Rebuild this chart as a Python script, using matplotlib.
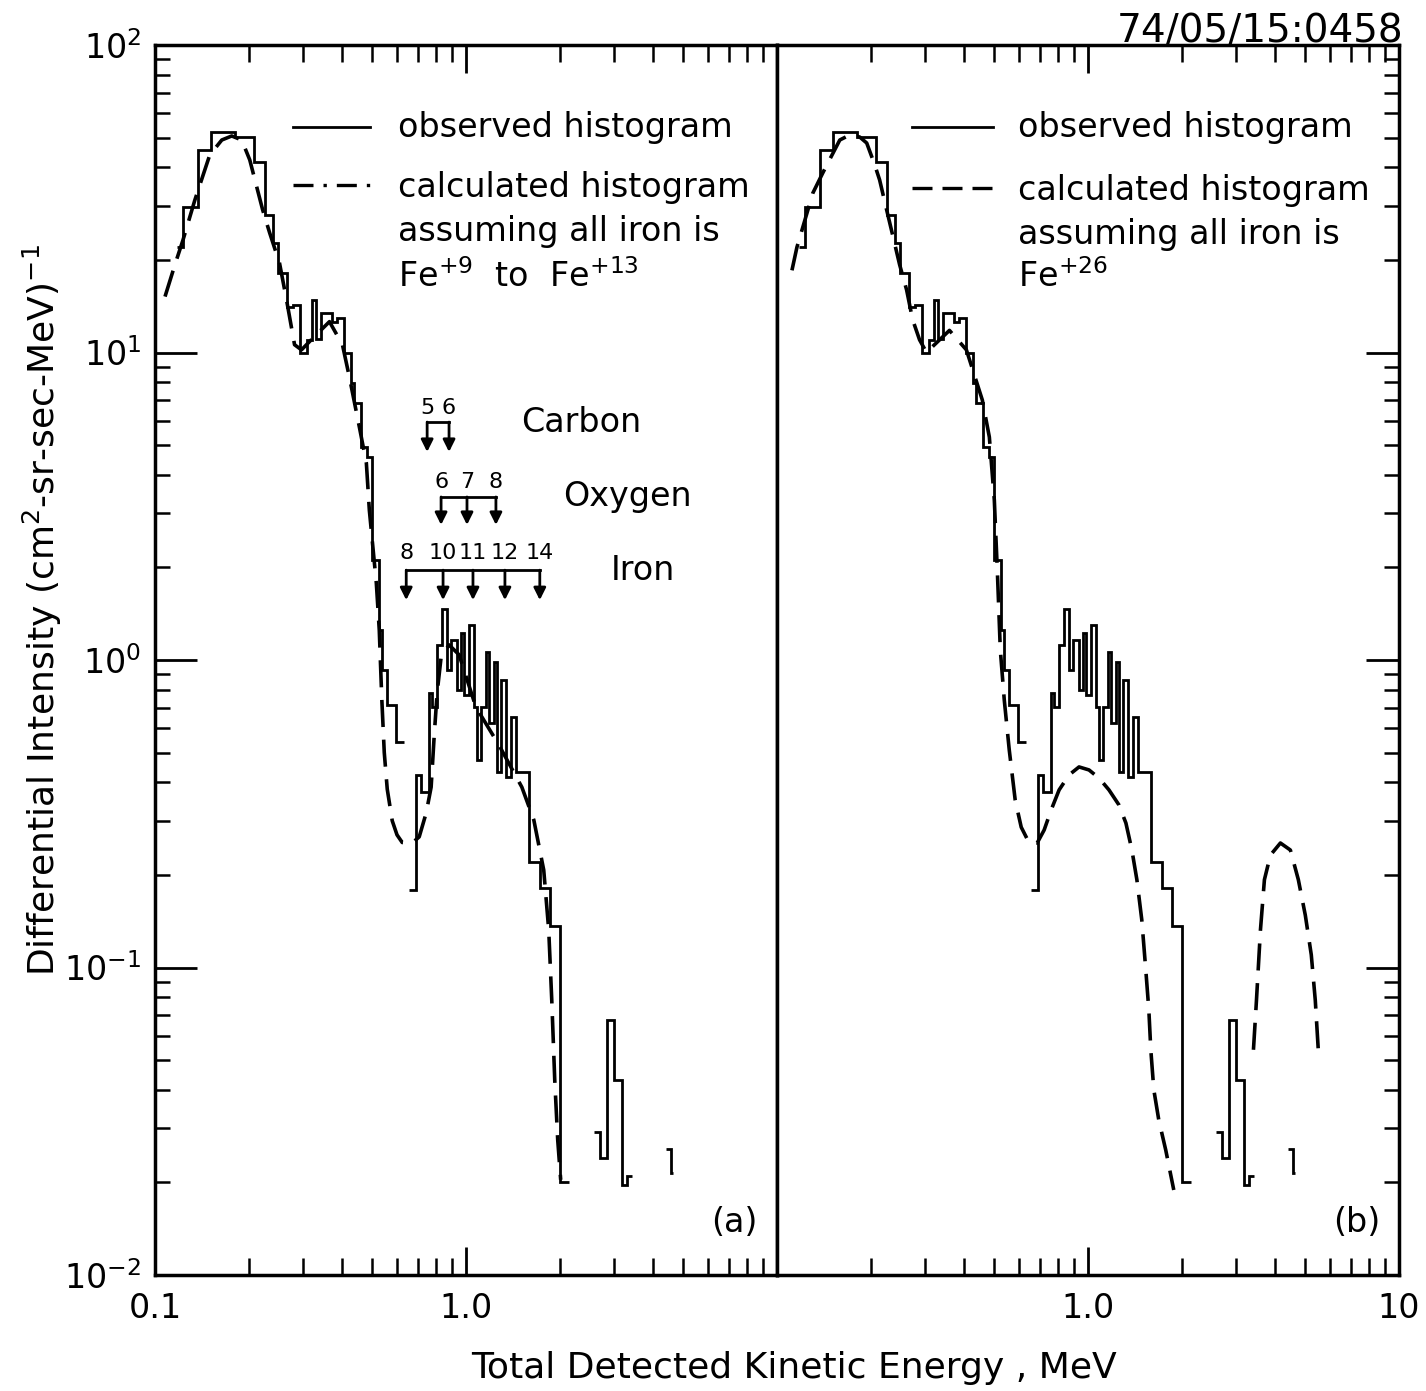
import numpy as np
import matplotlib.pyplot as plt
from matplotlib.ticker import LogLocator, NullFormatter, FixedLocator, FixedFormatter

# observed histogram (the same counts are drawn in both panels); bin edges in MeV
obs_edges = [0.118, 0.123, 0.1374, 0.151, 0.1804, 0.2076, 0.2253, 0.2388, 0.2478, 0.2649,
             0.2769, 0.2915, 0.3071, 0.3209, 0.3305, 0.3430, 0.3720, 0.3858, 0.4064, 0.4280,
             0.4375, 0.4608, 0.4816, 0.4996, 0.5262, 0.5380, 0.5582, 0.5965, 0.6330, 0.6567,
             0.6914, 0.7175, 0.7610, 0.7780, 0.8090, 0.8395, 0.8711, 0.8934, 0.9378, 0.9616,
             0.9853, 1.022, 1.061, 1.087, 1.115, 1.157, 1.185, 1.229, 1.260, 1.292,
             1.341, 1.391, 1.443, 1.592, 1.736, 1.868, 2.012, 2.138, 2.572, 2.702,
             2.838, 2.982, 3.170, 3.289, 3.412, 4.41, 4.575, 4.62]
obs_values = [22.0, 29.7, 45.6, 52.1, 50.2, 41.7, 28.0, 22.7, 18.2, 14.1,
              14.3, 10.0, 11.0, 14.8, 11.1, 13.4, 12.6, 12.9, 10.0, 7.96,
              6.85, 4.93, 4.57, 2.11, 1.25, 0.928, 0.714, 0.541, np.nan, 0.179,
              0.423, 0.372, 0.781, 0.703, 1.12, 1.46, 0.928, 1.16, 0.799, 1.224,
              0.769, 1.30, 0.703, 0.473, 0.703, 1.06, 0.624, 0.985, 0.432, 0.861,
              0.417, 0.653, 0.432, 0.220, 0.181, 0.136, 0.020, np.nan, 0.0292, 0.0240,
              0.0675, 0.0431, 0.0196, 0.0210, np.nan, 0.0256, 0.0215]

# calculated histogram, iron as Fe+9 .. Fe+13
calc_a_energy = [0.1077, 0.1159, 0.123, 0.1343, 0.150, 0.164, 0.1765, 0.190, 0.2017, 0.2219,
                 0.2337, 0.2515, 0.2649, 0.281, 0.2958, 0.3209, 0.3639, 0.4006, 0.4217, 0.4541,
                 0.4782, 0.4889, 0.5148, 0.5262, 0.536, 0.546, 0.5582, 0.5792, 0.600, 0.6236,
                 0.6714, 0.7072, 0.7446, 0.7725, 0.7898, 0.8074, 0.8315, 0.882, 0.950, 1.076,
                 1.276, 1.512, 1.652, 1.778, 1.845, 1.887, 1.929, 1.972, 2.016]
calc_a_value = [15.2, 19.3, 23.2, 31.3, 43.9, 49.1, 50.6, 49.1, 42.3, 29.1,
                24.5, 19.5, 14.8, 10.6, 10.2, 11.1, 12.6, 10.6, 8.32, 5.72,
                4.37, 3.07, 1.78, 1.25, 0.75, 0.50, 0.38, 0.30, 0.27, 0.255,
                0.254, 0.266, 0.318, 0.386, 0.562, 0.781, 1.02, 1.12, 1.04, 0.703,
                0.529, 0.386, 0.302, 0.2075, 0.1324, 0.0783, 0.0431, 0.0275, 0.0204]

# calculated histogram, iron as Fe+26 (curve leaves the frame between the two parts)
calc_b_energy = [0.1117, 0.1159, 0.1304, 0.1404, 0.1457, 0.1592, 0.1714, 0.1845, 0.1943, 0.2061,
                 0.2138, 0.2252, 0.2354, 0.2479, 0.2610, 0.2729, 0.2873, 0.3026, 0.3209, 0.3585,
                 0.4064, 0.4574, 0.4817, 0.4998, 0.5110, 0.5224, 0.5380, 0.5582, 0.5834, 0.6099,
                 0.6471, 0.6863, 0.7228, 0.7610, 0.8074, 0.8695, 0.9358, 1.0074, 1.085, 1.168,
                 1.257, 1.324, 1.384, 1.436, 1.489, 1.534, 1.569, 1.592, 1.628, 1.689,
                 1.778, 1.887]
calc_b_value = [18.5, 22.0, 33.0, 38.4, 41.3, 49.1, 51.0, 50.2, 48.0, 40.8,
                36.4, 29.1, 24.1, 19.3, 16.0, 12.8, 11.0, 10.0, 10.6, 11.8,
                10.2, 7.0, 5.31, 3.31, 1.96, 1.08, 0.741, 0.510, 0.350, 0.286,
                0.254, 0.254, 0.280, 0.325, 0.378, 0.423, 0.449, 0.439, 0.413, 0.378,
                0.338, 0.295, 0.241, 0.193, 0.143, 0.0982, 0.0728, 0.054, 0.040, 0.0319,
                0.0255, 0.0189]
calc_b2_energy = [3.404, 3.481, 3.585, 3.692, 3.86, 4.156, 4.474, 4.746, 4.997, 5.223, 5.380, 5.501]
calc_b2_value = [0.054, 0.0783, 0.1324, 0.193, 0.232, 0.254, 0.241, 0.193, 0.148, 0.110, 0.0783, 0.054]

# charge-state markers in panel (a)
carbon_energy = [0.750, 0.882]
carbon_charge = ['5', '6']
oxygen_energy = [0.8315, 1.0074, 1.248]
oxygen_charge = ['6', '7', '8']
iron_energy = [0.6424, 0.8438, 1.053, 1.334, 1.727]
iron_charge = ['8', '10', '11', '12', '14']

plt.rcParams['font.family'] = 'DejaVu Sans'
plt.rcParams['mathtext.fontset'] = 'dejavusans'

W, H = 1426, 1391
fig = plt.figure(figsize=(W / 100, H / 100), dpi=100)
ax1 = fig.add_axes([155 / W, 116 / H, 622 / W, 1230 / H])
ax2 = fig.add_axes([777 / W, 116 / H, 622 / W, 1230 / H], sharey=ax1)

dash = (0, (7.5, 3.5))
for ax in (ax1, ax2):
    ax.set_xscale('log')
    ax.set_yscale('log')
    ax.set_xlim(0.1, 10)
    ax.set_ylim(0.01, 100)
    ax.stairs(obs_values, obs_edges, baseline=None, color='black', lw=2.0)
    for s in ax.spines.values():
        s.set_linewidth(2.5)
    ax.xaxis.set_major_locator(FixedLocator([0.1, 1, 10]))
    ax.xaxis.set_minor_locator(LogLocator(base=10, subs=np.arange(2, 10)))
    ax.xaxis.set_minor_formatter(NullFormatter())
    ax.yaxis.set_minor_locator(LogLocator(base=10, subs=np.arange(2, 10), numticks=20))
    ax.yaxis.set_minor_formatter(NullFormatter())
    ax.tick_params(axis='x', which='major', direction='in', length=20, width=2,
                   top=True, bottom=True, labelsize=24, pad=12)
    ax.tick_params(axis='x', which='minor', direction='in', length=12, width=1.8,
                   top=True, bottom=True)

ax1.plot(calc_a_energy, calc_a_value, color='black', lw=2.6, linestyle=dash)
ax2.plot(calc_b_energy, calc_b_value, color='black', lw=2.6, linestyle=dash)
ax2.plot(calc_b2_energy, calc_b2_value, color='black', lw=2.6, linestyle=dash)

ax1.xaxis.set_major_formatter(FixedFormatter(['0.1', '1.0', '']))
ax2.xaxis.set_major_formatter(FixedFormatter(['', '1.0', '10']))

ax1.tick_params(axis='y', which='major', direction='in', length=30, width=2,
                left=True, right=False, labelsize=24, pad=10)
ax1.tick_params(axis='y', which='minor', direction='in', length=11, width=1.8,
                left=True, right=False)
ax2.tick_params(axis='y', which='major', direction='in', length=24, width=2,
                left=False, right=True, labelleft=False, labelright=False)
ax2.tick_params(axis='y', which='minor', direction='in', length=11, width=1.8,
                left=False, right=True)

# legends drawn by hand
fs = 24
ax1.plot([0.222, 0.346], [0.933, 0.933], transform=ax1.transAxes, color='black', lw=2)
ax1.plot([0.222, 0.346], [0.886, 0.886], transform=ax1.transAxes, color='black', lw=2.4,
         linestyle=(0, (6, 3, 1, 3)))
ax1.text(0.391, 0.933, 'observed histogram', transform=ax1.transAxes, fontsize=fs, va='center')
ax1.text(0.391, 0.884, 'calculated histogram', transform=ax1.transAxes, fontsize=fs, va='center')
ax1.text(0.391, 0.848, 'assuming all iron is', transform=ax1.transAxes, fontsize=fs, va='center')
ax1.text(0.391, 0.812, r'Fe$^{+9}$  to  Fe$^{+13}$', transform=ax1.transAxes, fontsize=fs, va='center')

ax2.plot([0.217, 0.347], [0.933, 0.933], transform=ax2.transAxes, color='black', lw=2)
ax2.plot([0.217, 0.347], [0.884, 0.884], transform=ax2.transAxes, color='black', lw=2.4,
         linestyle=(0, (6, 3)))
ax2.text(0.387, 0.933, 'observed histogram', transform=ax2.transAxes, fontsize=fs, va='center')
ax2.text(0.387, 0.882, 'calculated histogram', transform=ax2.transAxes, fontsize=fs, va='center')
ax2.text(0.387, 0.846, 'assuming all iron is', transform=ax2.transAxes, fontsize=fs, va='center')
ax2.text(0.387, 0.812, r'Fe$^{+26}$', transform=ax2.transAxes, fontsize=fs, va='center')

ax1.text(0.932, 0.043, '(a)', transform=ax1.transAxes, fontsize=fs, ha='center', va='center')
ax2.text(0.932, 0.043, '(b)', transform=ax2.transAxes, fontsize=fs, ha='center', va='center')

# charge-state arrows
def charge_marks(ax, energies, charges, y_bar, y_tip, y_lab, name, x_name):
    ax.plot([min(energies), max(energies)], [y_bar, y_bar], color='black', lw=2)
    for e, q in zip(energies, charges):
        ax.annotate('', xy=(e, y_tip), xytext=(e, y_bar),
                    arrowprops=dict(arrowstyle='-|>', color='black', lw=2, mutation_scale=18,
                                    shrinkA=0, shrinkB=0))
        ax.text(e, y_lab, q, fontsize=16, ha='center', va='center')
    ax.text(x_name, y_bar, name, fontsize=fs, ha='left', va='center')

charge_marks(ax1, carbon_energy, carbon_charge, 5.94, 4.75, 6.6, 'Carbon', 1.50)
charge_marks(ax1, oxygen_energy, oxygen_charge, 3.39, 2.75, 3.79, 'Oxygen', 2.06)
charge_marks(ax1, iron_energy, iron_charge, 1.96, 1.566, 2.23, 'Iron', 2.916)

fig.text(1403 / W, 1 - 32 / H, '74/05/15:0458', fontsize=28, ha='right', va='center')
fig.text(42 / W, 1 - 610 / H, r'Differential Intensity (cm$^2$-sr-sec-MeV)$^{-1}$',
         rotation=90, fontsize=26, ha='center', va='center')
fig.text(794 / W, 1 - 1368 / H, 'Total Detected Kinetic Energy , MeV', fontsize=26,
         ha='center', va='center')

fig.savefig('out.png', dpi=100)
